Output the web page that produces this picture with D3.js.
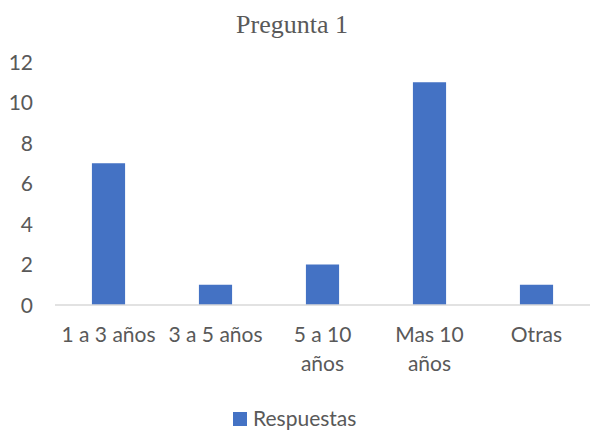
<!DOCTYPE html>
<html>
<head>
<meta charset="utf-8">
<script src="https://cdn.jsdelivr.net/npm/d3@7"></script>
<style>
  body { margin: 0; background: #fff; }
  text { font-family: Lato, "Open Sans", sans-serif; }
</style>
</head>
<body>
<script>
// chart data
const categories = ['1 a 3 años', '3 a 5 años', '5 a 10 años', 'Mas 10 años', 'Otras'];
const categoryLines = [['1 a 3 años'], ['3 a 5 años'], ['5 a 10', 'años'], ['Mas 10', 'años'], ['Otras']];
const respuestas = [7, 1, 2, 11, 1];
const yTicks = [0, 2, 4, 6, 8, 10, 12];
const seriesName = 'Respuestas';
const title = 'Pregunta 1';

const W = 591, H = 430;
const BAR_COLOR = '#4472C4';
const TEXT_COLOR = '#595959';
const FONT_SIZE = '21px';

const svg = d3.select('body').append('svg')
  .attr('width', W)
  .attr('height', H);

const x = d3.scaleBand()
  .domain(categories)
  .range([55, 590])
  .padding(0);

const y = d3.scaleLinear()
  .domain([0, 12])
  .range([305, 62]);

const barW = x.bandwidth() * 0.31;

// title
svg.append('text')
  .attr('x', 292)
  .attr('y', 33)
  .attr('text-anchor', 'middle')
  .attr('fill', TEXT_COLOR)
  .style('font-family', '"Liberation Serif", "Times New Roman", serif')
  .style('font-size', '26px')
  .text(title);

// y axis labels (no line, no ticks)
const yAxis = d3.axisLeft(y).tickValues(yTicks).tickSize(0).tickPadding(0);
const yg = svg.append('g')
  .attr('transform', 'translate(33,0)')
  .call(yAxis);
yg.select('.domain').remove();
yg.selectAll('text')
  .attr('fill', TEXT_COLOR)
  .style('font-family', 'Lato, sans-serif')
  .style('font-size', FONT_SIZE)
  .attr('dy', '0.35em');

// bars
svg.append('g')
  .selectAll('rect')
  .data(respuestas)
  .enter()
  .append('rect')
  .attr('x', (d, i) => x(categories[i]) + (x.bandwidth() - barW) / 2)
  .attr('y', d => y(d))
  .attr('width', barW)
  .attr('height', d => y(0) - y(d))
  .attr('fill', BAR_COLOR);

// baseline
svg.append('line')
  .attr('x1', x.range()[0])
  .attr('x2', x.range()[1])
  .attr('y1', y(0))
  .attr('y2', y(0))
  .attr('stroke', '#d9d9d9')
  .attr('stroke-width', 1.5);

// category labels
const xl = svg.append('g')
  .selectAll('text')
  .data(categories)
  .enter()
  .append('text')
  .attr('text-anchor', 'middle')
  .attr('fill', TEXT_COLOR)
  .style('font-size', FONT_SIZE);

xl.each(function (d, i) {
  const cx = x(d) + x.bandwidth() / 2;
  categoryLines[i].forEach((line, j) => {
    d3.select(this).append('tspan')
      .attr('x', cx)
      .attr('y', 342 + j * 29)
      .text(line);
  });
});

// legend
const lg = svg.append('g');
lg.append('rect')
  .attr('x', 233)
  .attr('y', 412)
  .attr('width', 14)
  .attr('height', 14)
  .attr('fill', BAR_COLOR);
lg.append('text')
  .attr('x', 253)
  .attr('y', 426)
  .attr('fill', TEXT_COLOR)
  .style('font-size', FONT_SIZE)
  .text(seriesName);
</script>
</body>
</html>
